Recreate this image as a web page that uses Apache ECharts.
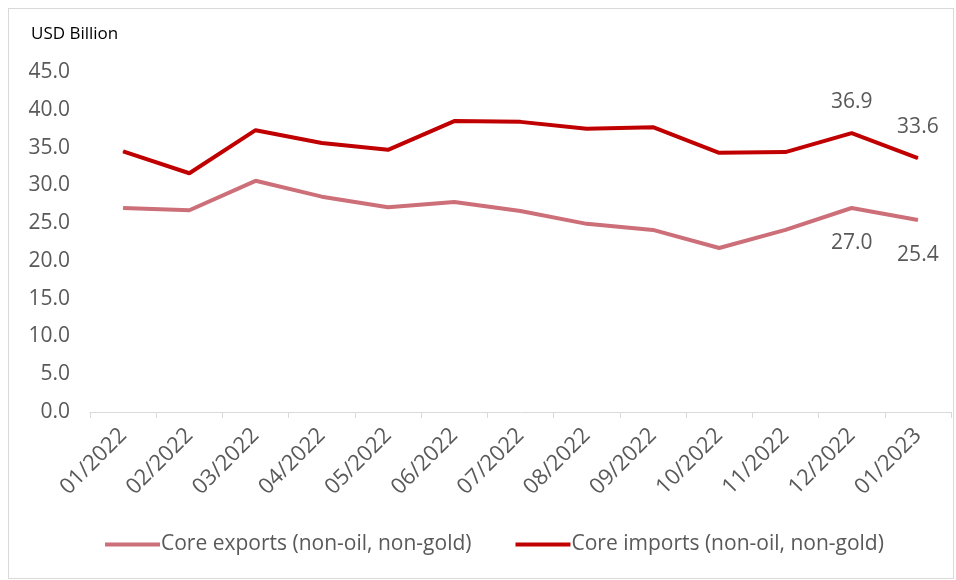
<!DOCTYPE html>
<html>
<head>
<meta charset="utf-8">
<script src="https://cdn.jsdelivr.net/npm/echarts@6/dist/echarts.min.js"></script>
<style>
  html, body { margin: 0; padding: 0; background: #fff; }
  #chart { width: 956px; height: 580px; }
  .frame { position: absolute; left: 8px; top: 8px; width: 946px; height: 571px; border: 1px solid #d9d9d9; box-sizing: border-box; pointer-events: none; }
</style>
</head>
<body>
<div id="chart"></div>
<div class="frame"></div>
<script>
  // months on the x axis
  var months = ['01/2022', '02/2022', '03/2022', '04/2022', '05/2022', '06/2022', '07/2022',
    '08/2022', '09/2022', '10/2022', '11/2022', '12/2022', '01/2023'];
  // core exports (non-oil, non-gold), USD billion
  var exportsVals = [27.0, 26.7, 30.6, 28.5, 27.1, 27.8, 26.6, 24.9, 24.1, 21.7, 24.1, 27.0, 25.4];
  // core imports (non-oil, non-gold), USD billion
  var importsVals = [34.5, 31.6, 37.3, 35.6, 34.7, 38.5, 38.4, 37.5, 37.7, 34.3, 34.4, 36.9, 33.6];
  // only the last two points carry a label
  var labelled = [11, 12];

  var font = '"Open Sans", "Noto Sans", sans-serif';
  var txt = '#595959';

  function pointLabel(pos, dist) {
    return {
      show: true,
      position: pos,
      distance: dist,
      fontFamily: font,
      fontSize: 21,
      color: txt,
      formatter: function (p) {
        return labelled.indexOf(p.dataIndex) >= 0 ? Number(p.value).toFixed(1) : '';
      }
    };
  }

  var myChart = echarts.init(document.getElementById('chart'));
  myChart.setOption({
    animation: false,
    grid: { left: 90, right: 5, top: 72, bottom: 168, containLabel: false },
    title: {
      text: 'USD Billion',
      left: 26, top: 21,
      textStyle: { fontFamily: font, fontSize: 17, fontWeight: 'normal', color: '#000' }
    },
    legend: {
      bottom: 20,
      left: 100,
      itemWidth: 55, itemHeight: 4, itemGap: 44,
      icon: 'rect',
      textStyle: { fontFamily: font, fontSize: 21, color: txt, padding: [0, 0, 0, -4] },
      data: ['Core exports (non-oil, non-gold)', 'Core imports (non-oil, non-gold)']
    },
    xAxis: {
      type: 'category',
      data: months,
      boundaryGap: true,
      axisLine: { lineStyle: { color: '#d9d9d9', width: 1 } },
      axisTick: { show: true, alignWithLabel: false, length: 6, lineStyle: { color: '#d9d9d9' } },
      axisLabel: { rotate: 45, fontFamily: font, fontSize: 22, color: txt, margin: 20, interval: 0 }
    },
    yAxis: {
      type: 'value',
      min: 0, max: 45, interval: 5,
      splitLine: { show: false },
      axisLine: { show: false },
      axisTick: { show: false },
      axisLabel: {
        fontFamily: font, fontSize: 21, color: txt, margin: 20,
        formatter: function (v) { return v.toFixed(1); }
      }
    },
    series: [
      {
        name: 'Core exports (non-oil, non-gold)',
        type: 'line',
        data: exportsVals,
        symbol: 'circle',
        symbolSize: 1,
        color: '#CC6F78',
        lineStyle: { width: 4, color: '#CC6F78' },
        label: pointLabel('bottom', 24)
      },
      {
        name: 'Core imports (non-oil, non-gold)',
        type: 'line',
        data: importsVals,
        symbol: 'circle',
        symbolSize: 1,
        color: '#C00000',
        lineStyle: { width: 4, color: '#C00000' },
        label: pointLabel('top', 20)
      }
    ]
  });
</script>
</body>
</html>
